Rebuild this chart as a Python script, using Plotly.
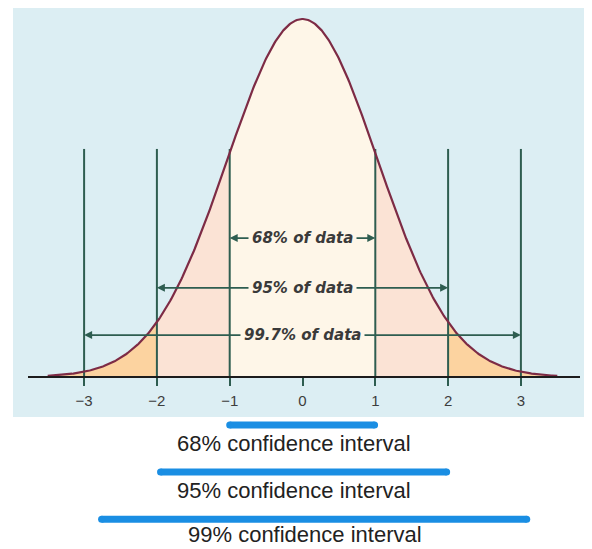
import numpy as np
import plotly.graph_objects as go

# ---------------- data ----------------
sigma_ticks = [-3, -2, -1, 0, 1, 2, 3]
guide_x = [-3, -2, -1, 1, 2, 3]
guide_top = 0.637            # height of guide lines (relative to curve peak)

curve_mean = 0.0
curve_sd = 1.033
curve_extent = 3.5
region_edges = [-3.5, -2, -1, 1, 2, 3.5]

band_labels = ["68% of data", "95% of data", "99.7% of data"]
band_half_width = [1, 2, 3]
band_height = [0.388, 0.249, 0.117]

ci_labels = ["68% confidence interval", "95% confidence interval", "99% confidence interval"]
ci_low = [-1.0, -1.95, -2.76]
ci_high = [0.99, 1.98, 3.08]

# ---------------- styles / positions ----------------
ci_bar_y = [-0.134, -0.265, -0.397]
ci_label_x = [-0.12, -0.12, 0.03]
ci_label_y = [-0.185, -0.318, -0.441]

BG_BLUE = "#DCEEF3"
CREAM = "#FEF6E8"
PINK = "#FBE3D5"
ORANGE = "#FCD3A0"
CURVE = "#7D2B45"
GREEN = "#2E5D50"
CI_BLUE = "#1A8EE3"
region_colors = [ORANGE, PINK, CREAM, PINK, ORANGE]

X_RANGE = [-3.7706, 3.8118]
Y_RANGE = [-0.4804, 1.0307]


def rel_density(x):
    return np.exp(-((x - curve_mean) ** 2) / (2 * curve_sd ** 2))


fig = go.Figure()

# filled regions under the curve
for a, b, col in zip(region_edges[:-1], region_edges[1:], region_colors):
    xs = np.linspace(a, b, 120)
    fig.add_trace(go.Scatter(x=xs, y=rel_density(xs), mode="lines",
                             line=dict(width=0, color=col), fill="tozeroy",
                             fillcolor=col, hoverinfo="skip"))

# vertical guide lines
for gx in guide_x:
    fig.add_trace(go.Scatter(x=[gx, gx], y=[0, guide_top], mode="lines",
                             line=dict(color=GREEN, width=2), hoverinfo="skip"))

# curve outline
xc = np.linspace(-curve_extent, curve_extent, 500)
fig.add_trace(go.Scatter(x=xc, y=rel_density(xc), mode="lines",
                         line=dict(color=CURVE, width=2.2), hoverinfo="skip"))

# confidence-interval bars
for lo, hi, yb in zip(ci_low, ci_high, ci_bar_y):
    fig.add_trace(go.Scatter(x=[lo, hi], y=[yb, yb], mode="lines+markers",
                             line=dict(color=CI_BLUE, width=7),
                             marker=dict(color=CI_BLUE, size=7),
                             hoverinfo="skip"))

annotations = []
# arrows
for w, h in zip(band_half_width, band_height):
    for sgn in (-1, 1):
        annotations.append(dict(x=sgn * w, y=h, ax=0, ay=h, xref="x", yref="y",
                                axref="x", ayref="y", text="", showarrow=True,
                                arrowhead=2, arrowsize=1, arrowwidth=1.6,
                                arrowcolor=GREEN, standoff=0, startstandoff=0))
# arrow labels
for lab, h in zip(band_labels, band_height):
    annotations.append(dict(x=0, y=h, xref="x", yref="y", text=lab, showarrow=False,
                            bgcolor=CREAM, borderpad=3,
                            font=dict(family="DejaVu Sans", size=15, color="#3a3a3a",
                                      style="italic", weight="bold")))
# CI labels
for lab, lx, ly in zip(ci_labels, ci_label_x, ci_label_y):
    annotations.append(dict(x=lx, y=ly, xref="x", yref="y", text=lab, showarrow=False,
                            xanchor="center", yanchor="middle", borderpad=0,
                            font=dict(family="Liberation Sans", size=22, color="#222222")))

fig.update_layout(
    width=584, height=541,
    margin=dict(l=20, r=12, t=0, b=0),
    paper_bgcolor="white",
    plot_bgcolor="rgba(0,0,0,0)",
    showlegend=False,
    annotations=annotations,
    shapes=[dict(type="rect", xref="paper", yref="paper",
                 x0=-0.0272, x1=1.0217, y0=0.2440, y1=1.0,
                 fillcolor=BG_BLUE, line=dict(width=0), layer="below")],
    xaxis=dict(range=X_RANGE, tickvals=sigma_ticks, showgrid=False, zeroline=False,
               showline=True, linecolor="#1c1c1c", linewidth=2,
               ticks="outside", ticklen=8, tickwidth=2, tickcolor=GREEN,
               anchor="free", position=0.3179, ticklabelstandoff=2,
               tickfont=dict(family="Liberation Sans", size=15, color="#3d3d3d"),
               fixedrange=True),
    yaxis=dict(range=Y_RANGE, visible=False, fixedrange=True),
)

fig.write_html("out.html")
